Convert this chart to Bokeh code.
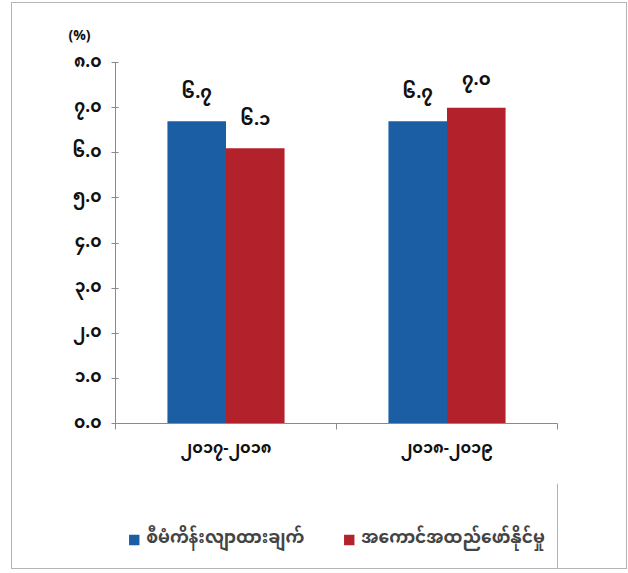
from bokeh.plotting import figure
from bokeh.layouts import column
from bokeh.models import (ColumnDataSource, FixedTicker, LinearAxis, Range1d,
                          Legend, LegendItem)
from bokeh.core.properties import value
from bokeh.embed import file_html
from bokeh.resources import INLINE

categories = ["၂၀၁၇-၂၀၁၈", "၂၀၁၈-၂၀၁၉"]
series_names = ["စီမံကိန်းလျာထားချက်", "အကောင်အထည်ဖော်နိုင်မှု"]
plan_values = [6.7, 6.7]
actual_values = [6.1, 7.0]
y_ticks = [0, 1, 2, 3, 4, 5, 6, 7, 8]

MY = str.maketrans("0123456789", "၀၁၂၃၄၅၆၇၈၉")
def mya(v):
    return f"{v:.1f}".translate(MY)

FONT = "Noto Sans Myanmar, Padauk, Myanmar Text, Noto Sans, sans-serif"
BLUE = "#1B5EA4"
RED = "#B3222B"

p = figure(width=614, height=480, output_backend="svg", toolbar_location=None,
           x_range=Range1d(0, len(categories)), y_range=Range1d(0, 8),
           min_border_left=103, min_border_right=69, min_border_top=59,
           min_border_bottom=60, x_axis_location=None, y_axis_location=None)
p.outline_line_color = None
p.xgrid.visible = False
p.ygrid.visible = False

p.title.text = "(%)"
p.title.align = "left"
p.title.offset = -47
p.title.standoff = 22
p.title.text_font = FONT
p.title.text_font_size = "14px"
p.title.text_font_style = "bold"
p.title.text_color = "#111111"

w = 0.265
xs = [i + 0.5 for i in range(len(categories))]
src = ColumnDataSource(dict(
    xb=[x - w / 2 for x in xs], xr=[x + w / 2 for x in xs],
    plan=plan_values, actual=actual_values,
    plan_lbl=[mya(v) for v in plan_values],
    act_lbl=[mya(v) for v in actual_values]))

rb = p.vbar(x="xb", top="plan", width=w, bottom=0, source=src,
            fill_color=BLUE, line_color=None)
rr = p.vbar(x="xr", top="actual", width=w, bottom=0, source=src,
            fill_color=RED, line_color=None)

for xcol, ycol, lcol in [("xb", "plan", "plan_lbl"), ("xr", "actual", "act_lbl")]:
    p.text(x=xcol, y=ycol, text=lcol, source=src, text_align="center",
           text_baseline="bottom", y_offset=-8, text_font=value(FONT),
           text_font_style="bold", text_font_size="18px", text_color="#111111")

# y axis
yax = LinearAxis(ticker=FixedTicker(ticks=y_ticks),
                 major_label_overrides={t: mya(t) for t in y_ticks})
yax.axis_line_color = "#8a8a8a"
yax.major_tick_line_color = "#8a8a8a"
yax.major_tick_in = 3
yax.major_tick_out = 4
yax.minor_tick_line_color = None
yax.major_label_text_font = FONT
yax.major_label_text_font_style = "bold"
yax.major_label_text_font_size = "17px"
yax.major_label_text_color = "#111111"
yax.major_label_standoff = 10
p.add_layout(yax, "left")

# x axis: category labels at centres, boundary ticks as minor ticks
bounds = list(range(len(categories) + 1))
cax = LinearAxis(ticker=FixedTicker(ticks=xs, minor_ticks=bounds),
                 major_label_overrides={x: c for x, c in zip(xs, categories)})
cax.axis_line_color = "#8a8a8a"
cax.major_tick_line_color = None
cax.minor_tick_line_color = "#8a8a8a"
cax.minor_tick_in = 0
cax.minor_tick_out = 6
cax.major_tick_in = 0
cax.major_tick_out = 0
cax.major_label_text_font = FONT
cax.major_label_text_font_style = "bold"
cax.major_label_text_font_size = "16px"
cax.major_label_text_color = "#111111"
cax.major_label_standoff = 2
p.add_layout(cax, "below")

# legend strip
q = figure(width=614, height=85, output_backend="svg", toolbar_location=None,
           x_range=Range1d(0, 1), y_range=Range1d(0, 1),
           min_border=0, x_axis_location=None, y_axis_location=None)
q.outline_line_color = None
q.xgrid.visible = False
q.ygrid.visible = False
lb = q.vbar(x=[5], top=[1], width=0.1, fill_color=BLUE, line_color=None)
lr = q.vbar(x=[5], top=[1], width=0.1, fill_color=RED, line_color=None)
legend = Legend(items=[LegendItem(label=series_names[0], renderers=[lb]),
                       LegendItem(label=series_names[1], renderers=[lr])],
                orientation="horizontal", location="bottom_center",
                label_text_font=FONT, label_text_font_style="bold",
                label_text_font_size="17px", glyph_width=13, glyph_height=13,
                spacing=38, background_fill_alpha=0, border_line_color=None,
                label_standoff=6, padding=4, margin=10)
q.add_layout(legend, "center")

layout = column(p, q, spacing=0)
layout.styles = {"border": "1px solid #b4b4b4", "margin-left": "11px",
                 "margin-top": "2px"}

open("out.html", "w").write(file_html(layout, INLINE))
